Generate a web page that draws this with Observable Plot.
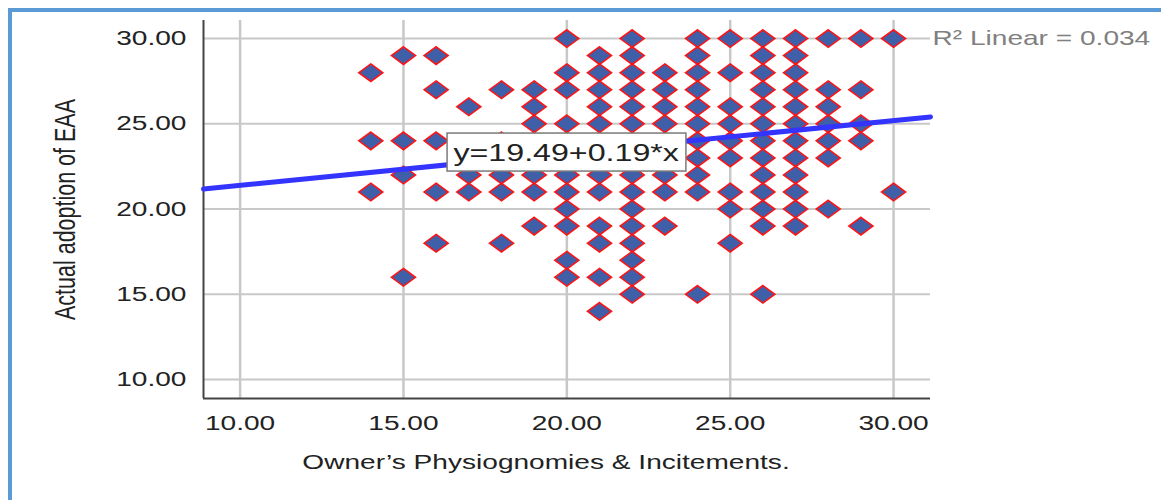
<!DOCTYPE html>
<html>
<head>
<meta charset="utf-8">
<script src="https://cdn.jsdelivr.net/npm/d3@7"></script>
<script src="https://cdn.jsdelivr.net/npm/@observablehq/plot@0.6"></script>
<style>
  html, body { margin: 0; background: #fff; overflow: hidden; }
  #wrap { position: relative; width: 1161px; height: 500px; overflow: hidden; background: #fff; }
  #chart { position: absolute; left: 0; top: 0; }
  #frameTop { position: absolute; left: 8px; top: 8px; width: 1153px; height: 4px; background: #5b9bd5; }
  #frameLeft { position: absolute; left: 8px; top: 8px; width: 4px; height: 492px; background: #5b9bd5; }
</style>
</head>
<body>
<div id="wrap"><div id="chart"></div><div id="frameTop"></div><div id="frameLeft"></div></div>
<script>
// ---- data ----
const xValues = [14, 15, 16, 17, 18, 19, 20, 21, 22, 23, 24, 25, 26, 27, 28, 29, 30];
const col14 = [28, 24, 21];
const col15 = [29, 24, 22, 16];
const col16 = [29, 27, 24, 21, 18];
const col17 = [26, 22, 21];
const col18 = [27, 24, 22, 21, 18];
const col19 = [27, 26, 25, 24, 23, 22, 21, 19];
const col20 = [30, 28, 27, 25, 24, 23, 22, 21, 20, 19, 17, 16];
const col21 = [29, 28, 27, 26, 25, 24, 23, 22, 21, 19, 18, 16, 14];
const col22 = [30, 29, 28, 27, 26, 25, 24, 23, 22, 21, 20, 19, 18, 17, 16, 15];
const col23 = [28, 27, 26, 25, 24, 23, 22, 21, 19];
const col24 = [30, 29, 28, 27, 26, 25, 24, 23, 22, 21, 15];
const col25 = [30, 28, 26, 25, 24, 23, 21, 20, 18];
const col26 = [30, 29, 28, 27, 26, 25, 24, 23, 22, 21, 20, 19, 15];
const col27 = [30, 29, 28, 27, 26, 25, 24, 23, 22, 21, 20, 19];
const col28 = [30, 27, 26, 25, 24, 23, 20];
const col29 = [30, 27, 25, 24, 19];
const col30 = [30, 21];
const yByX = [col14, col15, col16, col17, col18, col19, col20, col21, col22, col23,
              col24, col25, col26, col27, col28, col29, col30];

const xTicks = [10, 15, 20, 25, 30];
const yTicks = [10, 15, 20, 25, 30];
const xDomain = [8.88, 31.13];
const yDomain = [8.89, 31.06];

const intercept = 19.49;
const slope = 0.19;
const eqLabel = "y=19.49+0.19*x";
const r2Label = "R\u00B2 Linear = 0.034";
const xTitle = "Owner\u2019s Physiognomies & Incitements.";
const yTitle = "Actual adoption of EAA";

// annotation box position (data units)
const eqBox = {x1: 16.35, x2: 23.66, y1: 22.2, y2: 24.43};
const eqPos = {x: 16.53, y: 23.28};

// ---- build tables ----
const points = [];
xValues.forEach((x, i) => yByX[i].forEach(y => points.push({x, y})));
const fitLine = xDomain.map(x => ({x, y: intercept + slope * x}));

const diamond = {
  draw(ctx) {
    ctx.moveTo(0, -8.8);
    ctx.lineTo(12, 0);
    ctx.lineTo(0, 8.8);
    ctx.lineTo(-12, 0);
    ctx.closePath();
  }
};

const fmt = d => d.toFixed(2);

const chart = Plot.plot({
  width: 1161,
  height: 500,
  marginLeft: 203,
  marginRight: 231,
  marginTop: 20,
  marginBottom: 102,
  style: {
    fontFamily: "'Liberation Sans', Arial, sans-serif",
    fontSize: "20.5px",
    background: "transparent",
    color: "#222",
    overflow: "visible"
  },
  x: {domain: xDomain, ticks: xTicks, tickFormat: fmt, tickSize: 0, tickPadding: 17, label: null},
  y: {domain: yDomain, ticks: yTicks, tickFormat: fmt, tickSize: 0, tickPadding: 17, label: null},
  marks: [
    Plot.ruleX(xTicks, {stroke: "#c8c8c8", strokeWidth: 2.5}),
    Plot.ruleY(yTicks, {stroke: "#c8c8c8", strokeWidth: 2}),
    Plot.ruleX([xDomain[0]], {stroke: "#444", strokeWidth: 2}),
    Plot.ruleY([yDomain[0]], {stroke: "#444", strokeWidth: 2}),
    Plot.dot(points, {x: "x", y: "y", symbol: diamond, fill: "#3f5fa9", stroke: "#ff1414", strokeWidth: 1.6}),
    Plot.line(fitLine, {x: "x", y: "y", stroke: "#3434ff", strokeWidth: 5}),
    Plot.rect([eqBox], {x1: "x1", x2: "x2", y1: "y1", y2: "y2", fill: "white", stroke: "#7a7a7a", strokeWidth: 1.5}),
    Plot.text([eqLabel], {x: eqPos.x, y: eqPos.y, text: d => d, textAnchor: "start", fontSize: 23.5, fill: "#222"}),
    Plot.text([r2Label], {x: xDomain[1], y: 30, text: d => d, textAnchor: "start", dx: 2, fontSize: 20.5, fill: "#808080"}),
    Plot.text([xTitle], {frameAnchor: "bottom", textAnchor: "middle", lineAnchor: "middle", dy: 64, dx: -21, text: d => d, fontSize: 20.5, fill: "#222"}),
    Plot.text([yTitle], {frameAnchor: "left", textAnchor: "middle", lineAnchor: "middle", dx: -138, rotate: -90, text: d => d, fontSize: 21.5, fill: "#222"})
  ]
});

// horizontal stretch of all text, as in the reference picture
const S = 1.37;
chart.querySelectorAll("text").forEach(t => {
  let tr = t.getAttribute("transform");
  if (tr) {
    if (tr.includes("rotate(")) tr = tr.replace("rotate(", `scale(${S},1) rotate(`);
    else tr = tr + ` scale(${S},1)`;
    t.setAttribute("transform", tr);
  } else {
    const xa = t.getAttribute("x"), ya = t.getAttribute("y");
    const isNum = v => v == null || /^-?[\d.]+$/.test(v);
    if (isNum(xa) && isNum(ya)) {
      const x = +(xa || 0), y = +(ya || 0);
      t.removeAttribute("x"); t.removeAttribute("y");
      t.setAttribute("transform", `translate(${x},${y}) scale(${S},1)`);
    } else if (isNum(xa)) {
      const x = +(xa || 0);
      t.removeAttribute("x");
      t.setAttribute("transform", `translate(${x},0) scale(${S},1)`);
    }
  }
});

document.getElementById("chart").appendChild(chart);
</script>
</body>
</html>
